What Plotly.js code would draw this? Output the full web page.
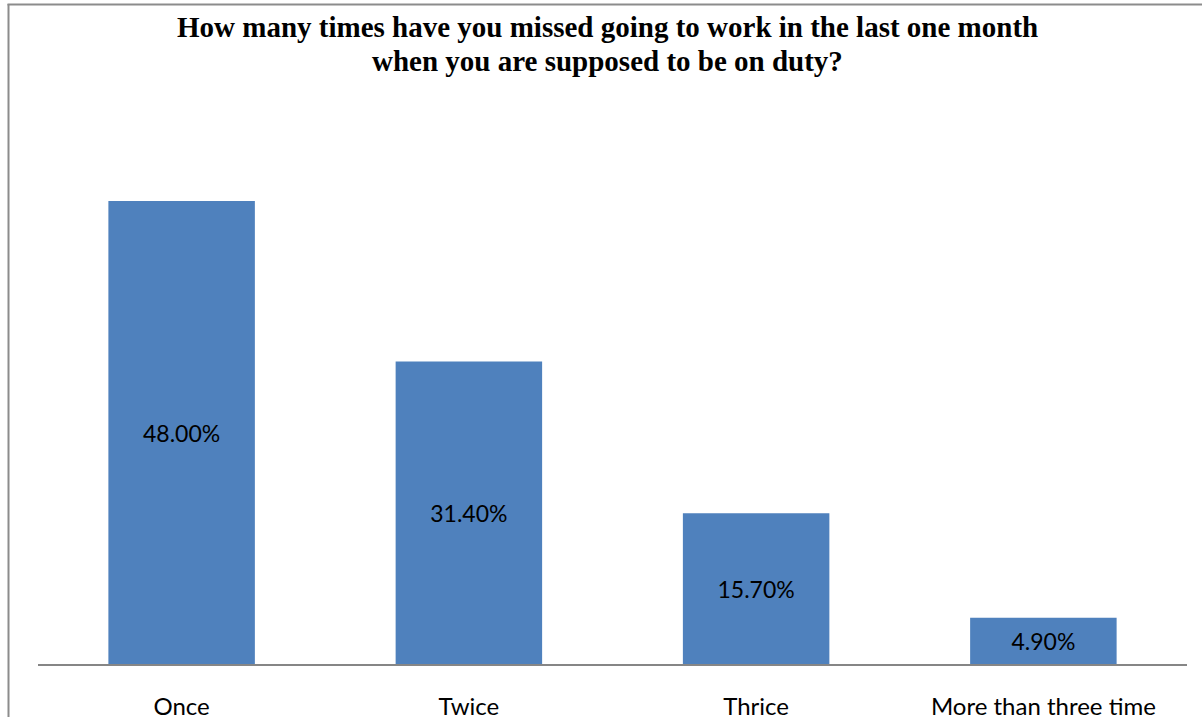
<!DOCTYPE html>
<html>
<head>
<meta charset="utf-8">
<script src="https://cdn.plot.ly/plotly-3.0.1.min.js"></script>
<style>
  html, body { margin: 0; padding: 0; background: #fff; overflow: hidden; }
  #chart { width: 1202px; height: 717px; }
</style>
</head>
<body>
<div id="chart"></div>
<script>
const categories = ["Once", "Twice", "Thrice", "More than three time"];
const percentages = [48.0, 31.4, 15.7, 4.9];
const valueLabels = ["48.00%", "31.40%", "15.70%", "4.90%"];
const titleLines = [
  "How many times have you missed going to work in the last one month",
  "when you are supposed to be on duty?"
];

const labelFont = "Lato, 'Open Sans', sans-serif";
const titleFont = "'Liberation Serif', 'Times New Roman', serif";

const trace = {
  type: "bar",
  x: categories,
  y: percentages,
  text: valueLabels,
  textposition: "inside",
  insidetextanchor: "middle",
  textangle: 0,
  textfont: { family: labelFont, size: 23, color: "#000" },
  marker: { color: "#4F81BD", line: { width: 0 } },
  hoverinfo: "none",
  cliponaxis: false
};

const ml = 38, mr = 15, mt = 85, mb = 52;
const W = 1202, H = 717;
const pw = W - ml - mr, ph = H - mt - mb;
const px = v => (v - ml) / pw;
const py = v => (H - mb - v) / ph;

const layout = {
  width: W,
  height: H,
  margin: { l: ml, r: mr, t: mt, b: mb, pad: 0 },
  paper_bgcolor: "#fff",
  plot_bgcolor: "#fff",
  showlegend: false,
  bargap: 0.49,
  xaxis: {
    type: "category",
    showline: false,
    ticks: "outside",
    ticklen: 20,
    tickcolor: "rgba(0,0,0,0)",
    tickfont: { family: labelFont, size: 24, color: "#000" },
    showgrid: false,
    zeroline: false,
    fixedrange: true
  },
  yaxis: {
    range: [0, 60],
    visible: false,
    showgrid: false,
    zeroline: false,
    fixedrange: true
  },
  annotations: titleLines.map((t, i) => ({
    text: "<b>" + t + "</b>",
    xref: "paper", yref: "paper",
    x: px(607), y: py(i === 0 ? 27 : 61),
    xanchor: "center", yanchor: "middle",
    showarrow: false,
    font: { family: titleFont, size: 29, color: "#000" }
  })),
  shapes: [
    { type: "line", xref: "paper", yref: "paper",
      x0: 0, x1: 1, y0: 0, y1: 0,
      line: { color: "#868686", width: 2 } },
    { type: "line", xref: "paper", yref: "paper",
      x0: px(8.5), x1: px(8.5), y0: py(4), y1: py(730),
      line: { color: "#8c8c8c", width: 2 } },
    { type: "line", xref: "paper", yref: "paper",
      x0: px(7.5), x1: px(1210), y0: py(4.5), y1: py(4.5),
      line: { color: "#8c8c8c", width: 2 } }
  ]
};

Plotly.newPlot("chart", [trace], layout, { displayModeBar: false, staticPlot: true });
</script>
</body>
</html>
